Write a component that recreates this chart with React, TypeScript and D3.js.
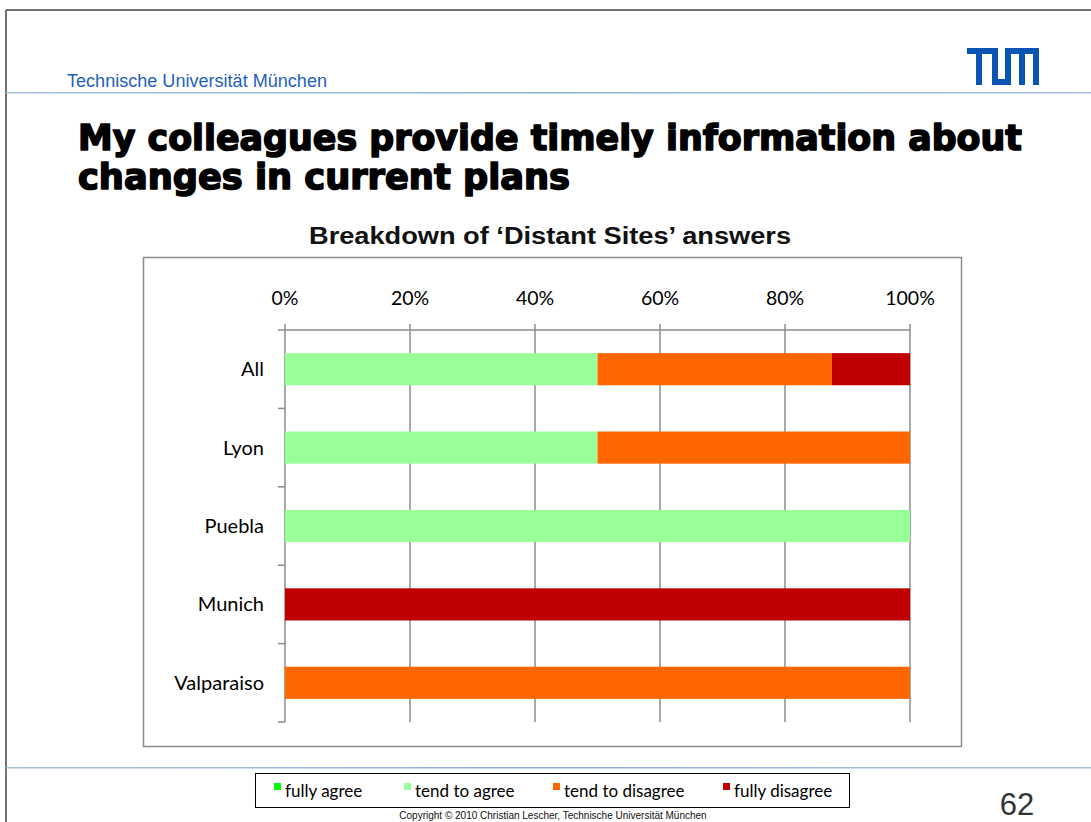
import React, { useEffect, useRef } from 'react';
import * as d3 from 'd3';

// data
const categories = ['All', 'Lyon', 'Puebla', 'Munich', 'Valparaiso'];
const seriesKeys = ['fully agree', 'tend to agree', 'tend to disagree', 'fully disagree'];
const fullyAgree = [0, 0, 0, 0, 0];
const tendToAgree = [50, 50, 100, 0, 0];
const tendToDisagree = [37.5, 50, 0, 0, 100];
const fullyDisagree = [12.5, 0, 0, 100, 0];
const xTicks = [0, 20, 40, 60, 80, 100];
const colors = ['#00ff00', '#99ff99', '#ff6600', '#c00000'];

const W = 1091;
const H = 822;

const App = () => {
  const svgRef = useRef<SVGSVGElement>(null);

  useEffect(() => {
    const svg = d3.select(svgRef.current);
    svg.selectAll('*').remove();

    // slide frame
    svg.append('line').attr('x1', 6).attr('x2', 6).attr('y1', 10).attr('y2', H).attr('stroke', '#444').attr('stroke-width', 1.5);
    svg.append('line').attr('x1', 6).attr('x2', W).attr('y1', 10).attr('y2', 10).attr('stroke', '#444').attr('stroke-width', 1.5);

    // header
    const defs = svg.append('defs');
    const grad = defs.append('linearGradient').attr('id', 'hline').attr('x1', 0).attr('x2', 1);
    grad.append('stop').attr('offset', '0%').attr('stop-color', '#a9c3dc');
    grad.append('stop').attr('offset', '50%').attr('stop-color', '#8fb0d2');
    grad.append('stop').attr('offset', '100%').attr('stop-color', '#a9c3dc');
    svg.append('rect').attr('x', 6).attr('y', 92).attr('width', W - 6).attr('height', 1.5).attr('fill', 'url(#hline)');
    svg.append('rect').attr('x', 6).attr('y', 767).attr('width', W - 6).attr('height', 1.5).attr('fill', 'url(#hline)');

    svg.append('text').attr('x', 67).attr('y', 87)
      .attr('font-family', 'Liberation Sans, Arial, sans-serif').attr('font-size', 17.5)
      .attr('textLength', 260).attr('lengthAdjust', 'spacingAndGlyphs')
      .attr('fill', '#1f5fbf').text('Technische Universität München');

    // TUM logo
    const logo = svg.append('g').attr('fill', '#0a55b4');
    const parts = [
      [967, 48, 31, 6], [976, 48, 6, 37], [992, 48, 6, 37], [992, 79, 18, 6],
      [1005, 48, 6, 37], [1005, 48, 34, 6], [1019, 48, 6, 37], [1033, 48, 6, 37],
    ];
    parts.forEach(p => logo.append('rect').attr('x', p[0]).attr('y', p[1]).attr('width', p[2]).attr('height', p[3]));

    // slide title
    const titleLines = [
      { t: 'My colleagues provide timely information about', y: 150, w: 944 },
      { t: 'changes in current plans', y: 189, w: 492 },
    ];
    titleLines.forEach(l => {
      svg.append('text').attr('x', 78).attr('y', l.y)
        .attr('font-family', 'DejaVu Sans, sans-serif').attr('font-weight', 'bold').attr('font-size', 35)
        .attr('textLength', l.w).attr('lengthAdjust', 'spacingAndGlyphs')
        .attr('stroke', '#000').attr('stroke-width', 1.6).attr('stroke-linejoin', 'round')
        .attr('fill', '#000').text(l.t);
    });

    // chart title
    svg.append('text').attr('x', 550).attr('y', 244).attr('text-anchor', 'middle')
      .attr('font-family', 'Liberation Sans, Arial, sans-serif').attr('font-weight', 'bold').attr('font-size', 23)
      .attr('textLength', 482).attr('lengthAdjust', 'spacingAndGlyphs')
      .attr('fill', '#111').text('Breakdown of \u2018Distant Sites\u2019 answers');

    // chart area frame
    svg.append('rect').attr('x', 143.5).attr('y', 257.5).attr('width', 818).attr('height', 489)
      .attr('fill', 'none').attr('stroke', '#8c8c8c').attr('stroke-width', 1.5);

    const x = d3.scaleLinear().domain([0, 100]).range([285, 910]);
    const y = d3.scaleBand().domain(categories).range([330, 722]).paddingInner(0.59).paddingOuter(0.295);
    const yEdges = d3.scaleLinear().domain([0, categories.length]).range([330, 722]);

    const rows = categories.map((c, i) => ({
      cat: c,
      'fully agree': fullyAgree[i],
      'tend to agree': tendToAgree[i],
      'tend to disagree': tendToDisagree[i],
      'fully disagree': fullyDisagree[i],
    }));
    const stacked = d3.stack<any>().keys(seriesKeys)(rows);

    const font = 'Lato, Open Sans, sans-serif';
    const gridColor = '#8c8c8c';

    // gridlines + top ticks
    svg.append('g').selectAll('line').data(xTicks).join('line')
      .attr('x1', d => x(d)).attr('x2', d => x(d)).attr('y1', 324).attr('y2', 722)
      .attr('stroke', gridColor).attr('stroke-width', 1.5);
    svg.append('line').attr('x1', 278).attr('x2', x(100)).attr('y1', 330).attr('y2', 330)
      .attr('stroke', gridColor).attr('stroke-width', 1.5);
    svg.append('g').selectAll('text').data(xTicks).join('text')
      .attr('x', d => x(d)).attr('y', 305).attr('text-anchor', 'middle')
      .attr('font-family', font).attr('font-size', 19.5).attr('fill', '#000')
      .text(d => `${d}%`);

    // category tick marks on the value axis
    svg.append('g').selectAll('line').data(d3.range(1, categories.length + 1)).join('line')
      .attr('x1', 278).attr('x2', 285).attr('y1', d => yEdges(d)).attr('y2', d => yEdges(d))
      .attr('stroke', gridColor).attr('stroke-width', 1.5);

    // bars
    svg.append('g').selectAll('g').data(stacked).join('g')
      .attr('fill', (d, i) => colors[i])
      .selectAll('rect').data(d => d).join('rect')
      .attr('x', d => x(d[0])).attr('width', d => x(d[1]) - x(d[0]))
      .attr('y', d => y(d.data.cat)!).attr('height', y.bandwidth());

    // category labels
    svg.append('g').selectAll('text').data(categories).join('text')
      .attr('x', 264).attr('y', d => y(d)! + y.bandwidth() / 2 + 7).attr('text-anchor', 'end')
      .attr('font-family', font).attr('font-size', 20).attr('fill', '#000').text(d => d);

    // legend
    svg.append('rect').attr('x', 255.5).attr('y', 773.5).attr('width', 594).attr('height', 34)
      .attr('fill', '#fff').attr('stroke', '#000').attr('stroke-width', 1);
    const legendX = [274, 404, 553, 723];
    const lg = svg.append('g').selectAll('g').data(seriesKeys).join('g')
      .attr('transform', (d, i) => `translate(${legendX[i]},0)`);
    lg.append('rect').attr('x', 0).attr('y', 783).attr('width', 7).attr('height', 7).attr('fill', (d, i) => colors[i]);
    lg.append('text').attr('x', 11).attr('y', 797).attr('font-family', font).attr('font-size', 17).attr('fill', '#000').text(d => d);

    // page number + copyright
    svg.append('text').attr('x', 1017).attr('y', 815).attr('text-anchor', 'middle')
      .attr('font-family', 'Liberation Sans, Arial, sans-serif').attr('font-size', 31).attr('fill', '#333').text('62');
    svg.append('text').attr('x', 553).attr('y', 819).attr('text-anchor', 'middle')
      .attr('font-family', 'Liberation Sans, Arial, sans-serif').attr('font-size', 10).attr('fill', '#111')
      .text('Copyright © 2010 Christian Lescher, Technische Universität München');
  }, []);

  return (
    <svg ref={svgRef} width={W} height={H} style={{ position: 'absolute', left: 0, top: 0, background: '#fff' }} />
  );
};

export default App;
